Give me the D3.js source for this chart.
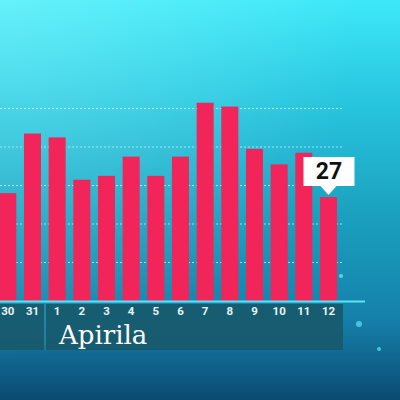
<!DOCTYPE html>
<html><head><meta charset="utf-8">
<script src="https://cdn.jsdelivr.net/npm/d3@7"></script>
<style>html,body{margin:0;padding:0;overflow:hidden;background:#000}</style>
</head><body>
<svg id="c" width="400" height="400"></svg>
<script>
const days = ["30","31","1","2","3","4","5","6","7","8","9","10","11","12"];
const values = [28, 43.5, 42.5, 31.5, 32.5, 37.5, 32.5, 37.5, 51.5, 50.5, 39.5, 35.5, 38.5, 27];
const gridTicks = [10, 20, 30, 40, 50];
const monthLabel = "Apirila";
const calloutLabel = "27";

const svg = d3.select("#c");
const defs = svg.append("defs");
const lg = defs.append("linearGradient").attr("id","bg").attr("x1",0).attr("y1",0).attr("x2",0).attr("y2",1);
[[0,"#3ee8f8"],[0.25,"#28c6df"],[0.55,"#1a9fbe"],[0.8,"#1580aa"],[1,"#0b4a72"]].forEach(s=>lg.append("stop").attr("offset",s[0]).attr("stop-color",s[1]));
const rg = defs.append("radialGradient").attr("id","glow").attr("cx",0).attr("cy",0).attr("r",0.9);
rg.append("stop").attr("offset",0).attr("stop-color","#a0ffff").attr("stop-opacity",0.4);
rg.append("stop").attr("offset",1).attr("stop-color","#a0ffff").attr("stop-opacity",0);
svg.append("rect").attr("width",400).attr("height",400).attr("fill","url(#bg)");
svg.append("rect").attr("width",400).attr("height",400).attr("fill","url(#glow)");

const baseY = 301;
const x = d3.scaleBand().domain(days).range([-0.7, 337]).paddingInner(0.31).paddingOuter(0);
const y = d3.scaleLinear().domain([0, 50]).range([baseY, baseY - 192.5]);

// grid lines
svg.append("g").selectAll("line").data(gridTicks).join("line")
  .attr("x1",0).attr("x2",342)
  .attr("y1",d=>y(d)).attr("y2",d=>y(d))
  .attr("stroke","#c8f6ff").attr("stroke-opacity",0.75)
  .attr("stroke-width",1).attr("stroke-dasharray","2,2");

// decorative sparkles
svg.append("circle").attr("cx",359).attr("cy",324).attr("r",3).attr("fill","#4fd8f5").attr("opacity",0.8);
svg.append("circle").attr("cx",379).attr("cy",349).attr("r",2).attr("fill","#4fd8f5").attr("opacity",0.8);
svg.append("circle").attr("cx",341).attr("cy",276).attr("r",2).attr("fill","#7feaff").attr("opacity",0.7);

// bars
svg.append("g").selectAll("rect").data(values).join("rect")
  .attr("x",(d,i)=>x(days[i])).attr("width",x.bandwidth())
  .attr("y",d=>y(d)).attr("height",d=>baseY - y(d))
  .attr("fill","#f2255a");

// axis line
svg.append("line").attr("x1",0).attr("x2",365).attr("y1",baseY+0.5).attr("y2",baseY+0.5)
  .attr("stroke","#5fe3f2").attr("stroke-width",2);

// label band
svg.append("rect").attr("x",0).attr("y",304).attr("width",44).attr("height",46).attr("fill","#17596a").attr("opacity",0.9);
svg.append("rect").attr("x",46).attr("y",304).attr("width",297).attr("height",46).attr("fill","#17596a").attr("opacity",0.9);
svg.append("line").attr("x1",45).attr("x2",45).attr("y1",304).attr("y2",350).attr("stroke","#2a8a9a").attr("stroke-width",1);

// tick labels
svg.append("g").selectAll("text").data(days).join("text")
  .attr("x",d=>x(d)+x.bandwidth()/2).attr("y",315)
  .attr("text-anchor","middle")
  .attr("font-family","Roboto, 'DejaVu Sans', sans-serif").attr("font-weight","bold")
  .attr("font-size",11.5).attr("fill","#e6f4f4").text(d=>d);

svg.append("text").attr("x",59).attr("y",344)
  .attr("font-family","'DejaVu Serif', serif").attr("font-size",26)
  .attr("fill","#ffffff").text(monthLabel);

// callout
const last = days.length - 1;
const cx = x(days[last]) + x.bandwidth()/2;
const topY = y(values[last]);
const g = svg.append("g");
g.append("path").attr("d",`M${cx-25},${topY-40} H${cx+26} V${topY-11} H${cx+8} L${cx},${topY-2} L${cx-8},${topY-11} H${cx-25} Z`)
  .attr("fill","#ffffff");
g.append("text").attr("x",cx+0.5).attr("y",topY-18).attr("text-anchor","middle")
  .attr("font-family","Roboto, 'DejaVu Sans', sans-serif").attr("font-weight","bold")
  .attr("font-size",23).attr("fill","#111").text(calloutLabel);
</script>
</body></html>
